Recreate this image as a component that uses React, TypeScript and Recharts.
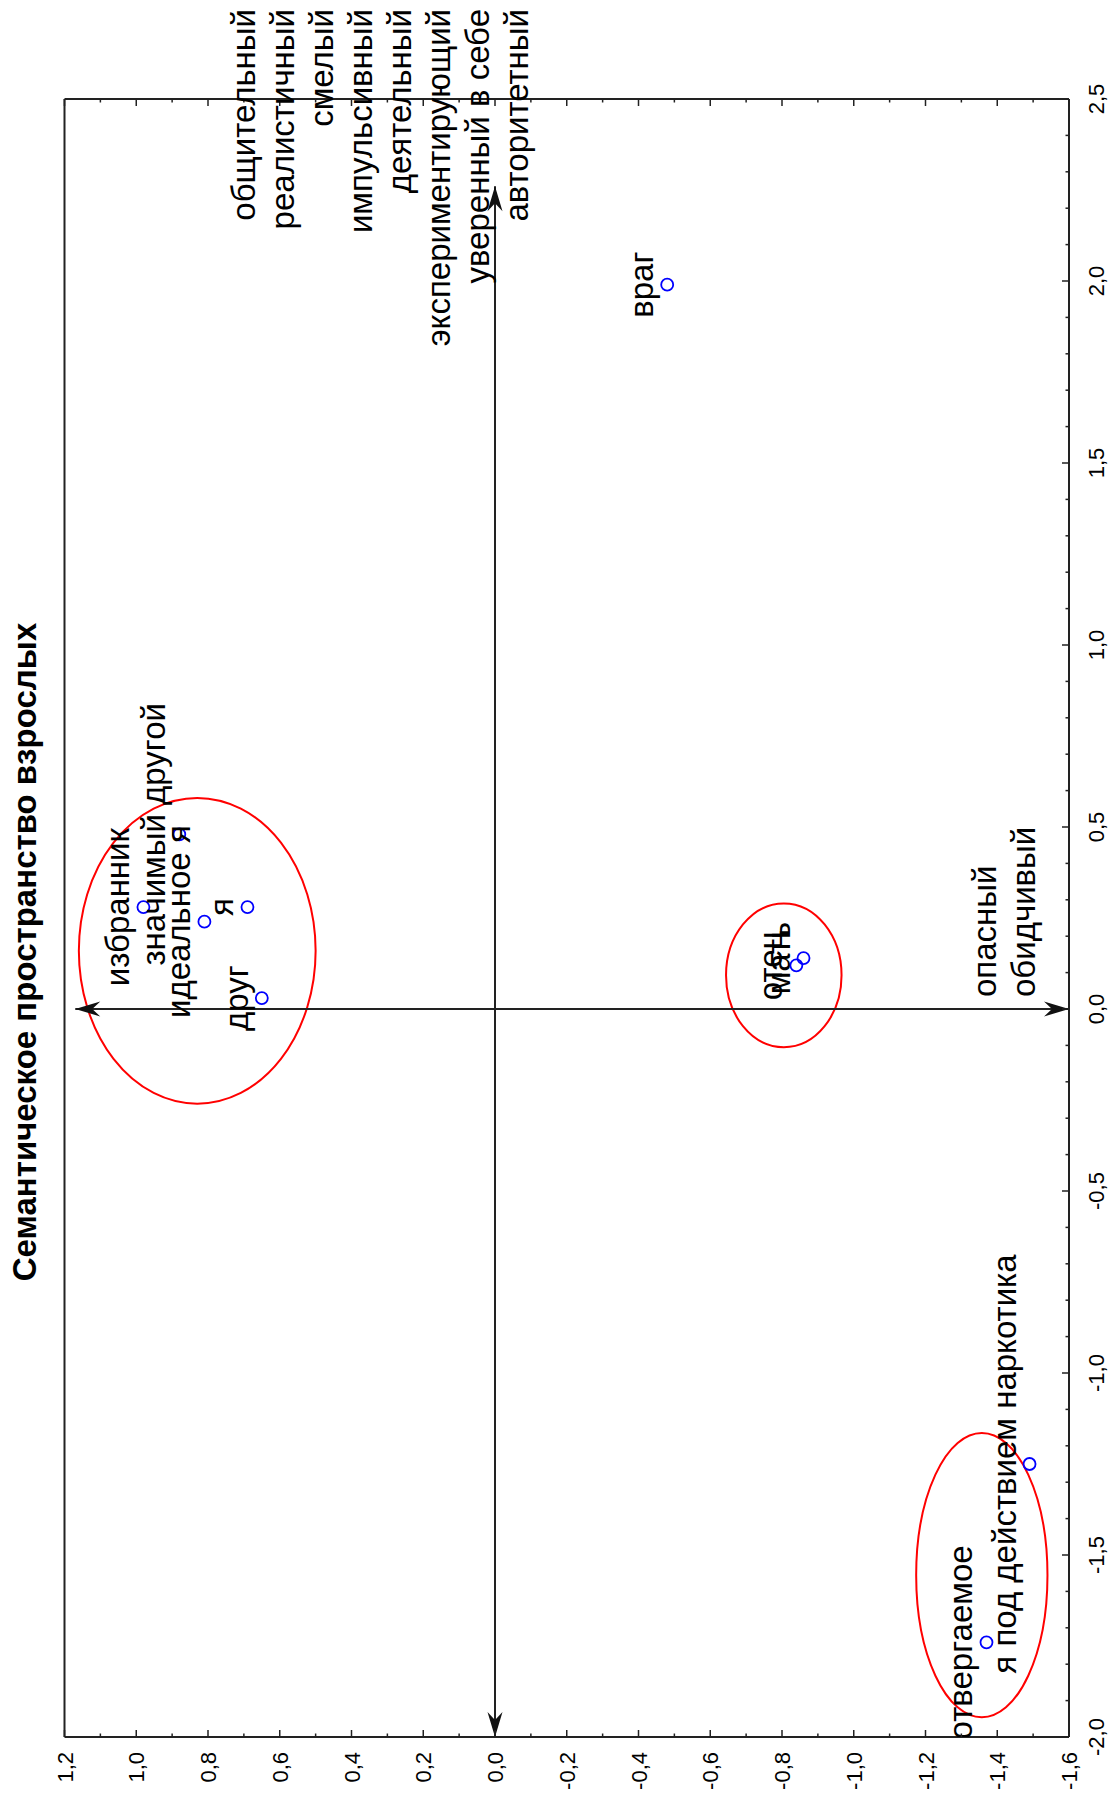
import React from 'react';
import {
  ScatterChart,
  Scatter,
  XAxis,
  YAxis,
  ReferenceArea,
  ReferenceLine,
} from 'recharts';

// objects of the semantic space (labels + coordinates on the two factors)
const pointNames = [
  'враг',
  'избранник',
  'значимый другой',
  'идеальное я',
  'я',
  'друг',
  'отец',
  'мать',
  'отвергаемое',
  'я под действием наркотика',
];
const factor1 = [1.99, 0.28, 0.48, 0.24, 0.28, 0.03, 0.12, 0.14, -1.74, -1.25];
const factor2 = [-0.48, 0.98, 0.88, 0.81, 0.69, 0.65, -0.84, -0.86, -1.37, -1.49];

// hand-drawn groupings (bounds in data units)
const groupX1 = [-0.26, -0.105, -1.946];
const groupX2 = [0.58, 0.29, -1.165];
const groupY1 = [0.5, -0.966, -1.54];
const groupY2 = [1.16, -0.644, -1.174];

// axis ticks
const xMajor = [-2.0, -1.5, -1.0, -0.5, 0.0, 0.5, 1.0, 1.5, 2.0, 2.5];
const yMajor = [-1.6, -1.4, -1.2, -1.0, -0.8, -0.6, -0.4, -0.2, 0.0, 0.2, 0.4, 0.6, 0.8, 1.0, 1.2];

// pole descriptors
const polesRight = [
  'общительный',
  'реалистичный',
  'смелый',
  'импульсивный',
  'деятельный',
  'экспериментирующий',
  'уверенный в себе',
  'авторитетный',
];
const polesLower = ['опасный', 'обидчивый'];

const title = 'Семантическое пространство взрослых';

const W = 1798;
const H = 1112;
const AXIS = '#222';
const FONT = '"Liberation Sans", Arial, Helvetica, sans-serif';

const xTicks = Array.from({ length: 46 }, (_, i) => Math.round((-2 + i * 0.1) * 10) / 10);
const yTicks = Array.from({ length: 29 }, (_, i) => Math.round((-1.6 + i * 0.1) * 10) / 10);

const isMajorX = (v: number) => xMajor.some((m) => Math.abs(m - v) < 1e-6);
const isMajorY = (v: number) => yMajor.some((m) => Math.abs(m - v) < 1e-6);
const fmt = (v: number) => v.toFixed(1).replace('.', ',');

const points = pointNames.map((name, i) => ({ name, x: factor1[i], y: factor2[i] }));

const BottomTick = ({ x, y, payload }: any) => {
  const major = isMajorX(payload.value);
  return (
    <g>
      <line x1={x} x2={x} y1={y} y2={y - (major ? 7 : 3.5)} stroke={AXIS} strokeWidth={1.5} />
      {major && (
        <text x={x} y={y + 35} textAnchor="middle" fontSize={22} fontFamily={FONT} fill="#000">
          {fmt(payload.value)}
        </text>
      )}
    </g>
  );
};

const TopTick = ({ x, y, payload }: any) => {
  const major = isMajorX(payload.value);
  return <line x1={x} x2={x} y1={y} y2={y + (major ? 7 : 3.5)} stroke={AXIS} strokeWidth={1.5} />;
};

const LeftTick = ({ x, y, payload }: any) => {
  const major = isMajorY(payload.value);
  return (
    <g>
      <line x1={x} x2={x + (major ? 7 : 3.5)} y1={y} y2={y} stroke={AXIS} strokeWidth={1.5} />
      {major && (
        <text x={x - 15} y={y + 8} textAnchor="end" fontSize={22} fontFamily={FONT} fill="#000">
          {fmt(payload.value)}
        </text>
      )}
    </g>
  );
};

const RightTick = ({ x, y, payload }: any) => {
  const major = isMajorY(payload.value);
  return <line x1={x} x2={x - (major ? 7 : 3.5)} y1={y} y2={y} stroke={AXIS} strokeWidth={1.5} />;
};

const arrowHead = (tx: number, ty: number, fx: number, fy: number) => {
  const dx = tx - fx;
  const dy = ty - fy;
  const len = Math.hypot(dx, dy) || 1;
  const ux = dx / len;
  const uy = dy / len;
  const bx = tx - ux * 25;
  const by = ty - uy * 25;
  const nx = tx - ux * 17;
  const ny = ty - uy * 17;
  const px = -uy * 7.5;
  const py = ux * 7.5;
  return (
    <polygon
      points={`${tx},${ty} ${bx + px},${by + py} ${nx},${ny} ${bx - px},${by - py}`}
      fill="#111"
    />
  );
};

const ArrowLine = (p: any) => {
  const { x1, y1, x2, y2 } = p;
  return (
    <g>
      <line x1={x1} y1={y1} x2={x2} y2={y2} stroke={AXIS} strokeWidth={2} />
      {arrowHead(x1, y1, x2, y2)}
      {arrowHead(x2, y2, x1, y1)}
    </g>
  );
};

const Ellipse = (p: any) => {
  const { x, y, width, height } = p;
  return (
    <ellipse
      cx={x + width / 2}
      cy={y + height / 2}
      rx={Math.abs(width) / 2}
      ry={Math.abs(height) / 2}
      fill="none"
      stroke="#ff0000"
      strokeWidth={2}
    />
  );
};

const PointMark = (p: any) => {
  const { cx, cy, payload } = p;
  return (
    <g>
      <circle cx={cx} cy={cy} r={6} fill="none" stroke="#0000ff" strokeWidth={1.8} />
      <text x={cx} y={cy - 14} textAnchor="middle" fontSize={33} fontFamily={FONT} fill="#000">
        {payload.name}
      </text>
    </g>
  );
};

export default function App() {
  return (
    <div
      style={{
        position: 'absolute',
        left: 0,
        top: 0,
        width: H,
        height: W,
        overflow: 'hidden',
        background: '#fff',
      }}
    >
      <div
        style={{
          position: 'absolute',
          left: 0,
          top: 0,
          width: W,
          height: H,
          transformOrigin: '0 0',
          transform: `translateY(${W}px) rotate(-90deg)`,
        }}
      >
        <ScatterChart width={W} height={H} margin={{ top: 63.5, right: 98, bottom: 0, left: 0 }}>
          <XAxis
            type="number"
            dataKey="x"
            domain={[-2, 2.5]}
            ticks={xTicks}
            interval={0}
            allowDataOverflow
            height={43}
            tickSize={0}
            tickMargin={0}
            tickLine={false}
            axisLine={{ stroke: AXIS, strokeWidth: 2 }}
            tick={<BottomTick />}
          />
          <XAxis
            xAxisId="top"
            orientation="top"
            type="number"
            domain={[-2, 2.5]}
            ticks={xTicks}
            interval={0}
            allowDataOverflow
            height={1}
            tickSize={0}
            tickMargin={0}
            tickLine={false}
            axisLine={{ stroke: AXIS, strokeWidth: 2 }}
            tick={<TopTick />}
          />
          <YAxis
            type="number"
            dataKey="y"
            domain={[-1.6, 1.2]}
            ticks={yTicks}
            interval={0}
            allowDataOverflow
            width={61}
            tickSize={0}
            tickMargin={0}
            tickLine={false}
            axisLine={{ stroke: AXIS, strokeWidth: 2 }}
            tick={<LeftTick />}
          />
          <YAxis
            yAxisId="right"
            orientation="right"
            type="number"
            domain={[-1.6, 1.2]}
            ticks={yTicks}
            interval={0}
            allowDataOverflow
            width={1}
            tickSize={0}
            tickMargin={0}
            tickLine={false}
            axisLine={{ stroke: AXIS, strokeWidth: 2 }}
            tick={<RightTick />}
          />
          <ReferenceLine
            segment={[
              { x: -2, y: 0 },
              { x: 2.26, y: 0 },
            ]}
            shape={ArrowLine}
            ifOverflow="visible"
          />
          <ReferenceLine
            segment={[
              { x: 0, y: 1.17 },
              { x: 0, y: -1.6 },
            ]}
            shape={ArrowLine}
            ifOverflow="visible"
          />
          {groupX1.map((_, i) => (
            <ReferenceArea
              key={i}
              x1={groupX1[i]}
              x2={groupX2[i]}
              y1={groupY1[i]}
              y2={groupY2[i]}
              shape={Ellipse}
              ifOverflow="visible"
            />
          ))}
          <Scatter data={points} shape={PointMark} isAnimationActive={false} />
        </ScatterChart>
        <svg
          width={W}
          height={H}
          style={{ position: 'absolute', left: 0, top: 0, pointerEvents: 'none' }}
        >
          <text x={846} y={36} textAnchor="middle" fontSize={33} fontWeight="bold" fontFamily={FONT} fill="#000">
            {title}
          </text>
          {polesRight.map((t, i) => (
            <text key={t} x={1789} y={255 + i * 39} textAnchor="end" fontSize={33} fontFamily={FONT} fill="#000">
              {t}
            </text>
          ))}
          {polesLower.map((t, i) => (
            <text key={t} x={801} y={996 + i * 39} textAnchor="start" fontSize={33} fontFamily={FONT} fill="#000">
              {t}
            </text>
          ))}
        </svg>
      </div>
    </div>
  );
}
